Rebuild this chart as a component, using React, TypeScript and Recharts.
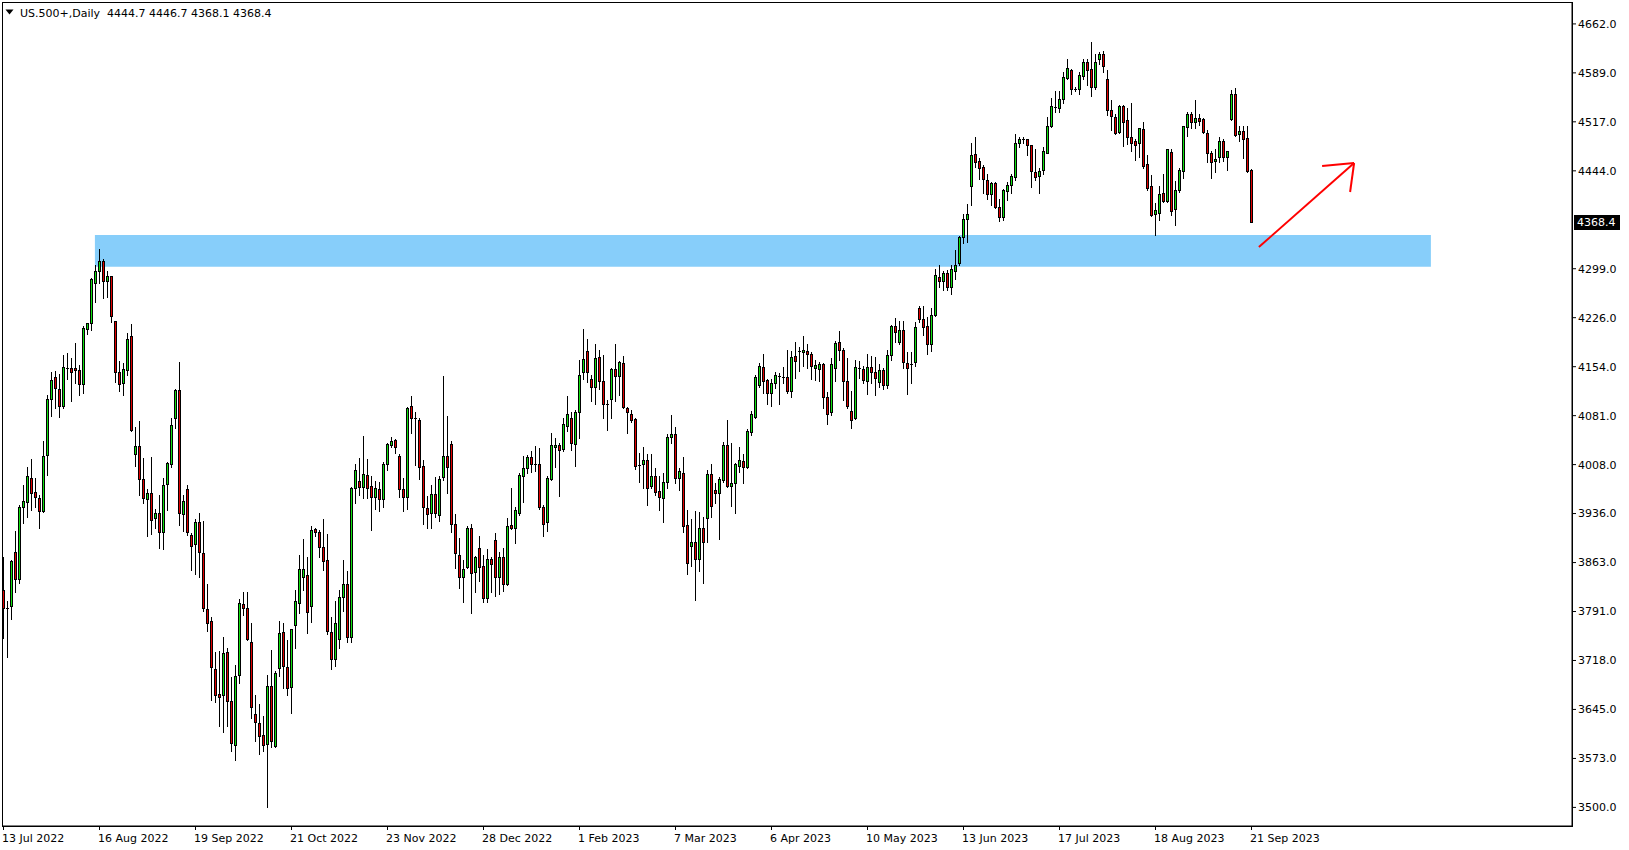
import React from 'react';
import { ComposedChart, Bar, XAxis, YAxis, ReferenceArea, ReferenceLine } from 'recharts';

// daily US.500+ candles, 13 Jul 2022 .. 21 Sep 2023
const OPEN = [
  3823, 3795, 3798, 3879, 3838, 3946, 3953, 3988, 3968, 3959,
  3939, 4022, 4105, 4138, 4120, 4096, 4151, 4152, 4151, 4149,
  4128, 4210, 4219, 4277, 4295, 4310, 4280, 4288, 4221, 4146,
  4129, 4148, 4199, 4024, 4036, 3987, 3958, 3967, 3929, 3936,
  3908, 3979, 4010, 4077, 4119, 3935, 3972, 3904, 3890, 3923,
  3878, 3794, 3776, 3705, 3668, 3667, 3730, 3658, 3592, 3696,
  3802, 3795, 3745, 3639, 3625, 3607, 3594, 3680, 3591, 3706,
  3760, 3708, 3678, 3770, 3803, 3841, 3845, 3798, 3913, 3908,
  3886, 3867, 3760, 3720, 3750, 3812, 3832, 3752, 3973, 3984,
  3975, 3993, 3976, 3960, 3972, 3958, 4010, 4037, 4045, 4021,
  3972, 3961, 4095, 4077, 4075, 4006, 3944, 3936, 3965, 3933,
  3990, 4021, 4039, 3920, 3874, 3842, 3856, 3915, 3849, 3884,
  3858, 3810, 3869, 3897, 3842, 3871, 3832, 3919, 3914, 3936,
  3991, 4003, 4020, 4010, 4009, 3945, 3924, 3987, 4035, 4038,
  4031, 4065, 4077, 4039, 4086, 4145, 4177, 4135, 4123, 4168,
  4132, 4099, 4105, 4150, 4140, 4159, 4093, 4084, 4076, 4008,
  4009, 4015, 3976, 3991, 3969, 3959, 3982, 4049, 4054, 3989,
  3996, 3919, 3887, 3893, 3869, 3915, 3929, 3994, 3971, 3967,
  3986, 4037, 3976, 3981, 4007, 4014, 4005, 4057, 4079, 4127,
  4153, 4134, 4114, 4129, 4140, 4138, 4138, 4117, 4169, 4176,
  4176, 4177, 4172, 4152, 4150, 4157, 4109, 4086, 4151, 4190,
  4179, 4133, 4088, 4077, 4151, 4150, 4133, 4153, 4146, 4131,
  4149, 4126, 4171, 4214, 4190, 4208, 4159, 4157, 4160, 4240,
  4224, 4214, 4188, 4231, 4287, 4280, 4293, 4272, 4296, 4307,
  4346, 4372, 4422, 4469, 4459, 4450, 4430, 4410, 4426, 4390,
  4376, 4414, 4423, 4435, 4486, 4491, 4491, 4482, 4442, 4437,
  4446, 4471, 4511, 4539, 4537, 4551, 4582, 4594, 4564, 4565,
  4585, 4605, 4595, 4568, 4610, 4618, 4580, 4534, 4524, 4501,
  4540, 4519, 4495, 4488, 4485, 4506, 4454, 4422, 4380, 4382,
  4411, 4399, 4472, 4387, 4416, 4444, 4509, 4528, 4517, 4522,
  4521, 4500, 4470, 4458, 4465, 4488, 4465, 4521, 4558, 4499,
  4503, 4493, 4444.7,
];

const HIGH = [
  3872, 3806, 3867, 3910, 3948, 3978, 4005, 4017, 3988, 3964,
  4043, 4112, 4145, 4147, 4143, 4171, 4174, 4166, 4189, 4156,
  4214, 4219, 4285, 4305, 4328, 4314, 4295, 4288, 4222, 4162,
  4159, 4203, 4217, 4064, 4073, 4018, 3972, 4019, 3942, 3963,
  3988, 4013, 4078, 4121, 4160, 3963, 3978, 3907, 3928, 3936,
  3925, 3832, 3783, 3730, 3732, 3752, 3737, 3694, 3711, 3809,
  3819, 3819, 3773, 3667, 3653, 3636, 3697, 3733, 3702, 3776,
  3774, 3748, 3765, 3822, 3874, 3898, 3872, 3917, 3915, 3911,
  3928, 3906, 3783, 3806, 3822, 3867, 3850, 3975, 4010, 4018,
  4051, 4017, 3992, 3984, 3983, 4012, 4041, 4049, 4046, 4024,
  3988, 4094, 4110, 4087, 4077, 4015, 3962, 3978, 3990, 3992,
  4140, 4080, 4043, 3935, 3899, 3867, 3918, 3920, 3873, 3902,
  3874, 3883, 3872, 3907, 3879, 3885, 3929, 3974, 3945, 3996,
  4021, 4023, 4029, 4036, 4033, 3948, 3991, 4056, 4048, 4041,
  4077, 4110, 4087, 4090, 4164, 4210, 4195, 4142, 4188, 4179,
  4171, 4104, 4152, 4187, 4162, 4170, 4094, 4089, 4078, 4026,
  4034, 4024, 4024, 4003, 3992, 3996, 4054, 4082, 4064, 4003,
  4020, 3941, 3928, 3940, 3938, 3930, 4000, 4009, 3981, 3990,
  4042, 4075, 4041, 4011, 4034, 4024, 4061, 4088, 4141, 4159,
  4172, 4136, 4135, 4146, 4144, 4153, 4178, 4177, 4190, 4183,
  4199, 4187, 4175, 4163, 4161, 4159, 4116, 4167, 4191, 4207,
  4182, 4167, 4117, 4163, 4162, 4155, 4173, 4169, 4168, 4157,
  4152, 4179, 4216, 4226, 4221, 4221, 4176, 4175, 4220, 4243,
  4243, 4228, 4241, 4299, 4305, 4296, 4297, 4304, 4327, 4348,
  4380, 4395, 4486, 4494, 4463, 4453, 4439, 4428, 4427, 4403,
  4417, 4428, 4440, 4498, 4495, 4494, 4492, 4483, 4477, 4449,
  4479, 4524, 4552, 4562, 4562, 4590, 4610, 4595, 4569, 4590,
  4610, 4610, 4635, 4618, 4621, 4622, 4593, 4549, 4529, 4542,
  4542, 4537, 4545, 4492, 4508, 4517, 4468, 4438, 4396, 4421,
  4440, 4477, 4476, 4429, 4448, 4511, 4531, 4531, 4549, 4528,
  4523, 4505, 4473, 4477, 4495, 4491, 4474, 4564, 4567, 4510,
  4510, 4510, 4446.7,
];

const LOW = [
  3751, 3723, 3780, 3820, 3833, 3922, 3930, 3941, 3946, 3914,
  3938, 3993, 4081, 4093, 4079, 4093, 4136, 4103, 4129, 4112,
  4114, 4202, 4208, 4249, 4278, 4255, 4257, 4220, 4131, 4118,
  4111, 4142, 4058, 4007, 3963, 3952, 3903, 3906, 3915, 3885,
  3883, 3941, 4005, 4062, 3919, 3910, 3904, 3852, 3846, 3842,
  3791, 3762, 3660, 3657, 3621, 3612, 3621, 3583, 3570, 3685,
  3785, 3748, 3632, 3598, 3579, 3584, 3501, 3590, 3590, 3695,
  3677, 3666, 3640, 3736, 3789, 3822, 3758, 3775, 3902, 3872,
  3852, 3757, 3705, 3710, 3737, 3792, 3745, 3745, 3951, 3963,
  3959, 3959, 3912, 3942, 3939, 3945, 4001, 4035, 4025, 3961,
  3940, 3942, 4055, 4008, 3987, 3921, 3914, 3914, 3930, 3925,
  3986, 3966, 3908, 3855, 3826, 3804, 3855, 3788, 3820, 3836,
  3804, 3805, 3820, 3814, 3817, 3821, 3830, 3913, 3892, 3934,
  3953, 3996, 3997, 3999, 3943, 3902, 3910, 3986, 4005, 3962,
  4029, 4058, 4030, 4007, 4048, 4136, 4131, 4103, 4098, 4121,
  4078, 4060, 4078, 4103, 4112, 4093, 4056, 4072, 4002, 3983,
  3974, 3948, 3973, 3963, 3941, 3924, 3973, 4041, 3981, 3971,
  3909, 3846, 3858, 3808, 3851, 3833, 3894, 3931, 3952, 3898,
  3982, 3975, 3947, 3936, 3997, 3981, 4004, 4052, 4077, 4123,
  4114, 4098, 4096, 4122, 4098, 4129, 4114, 4109, 4137, 4147,
  4154, 4151, 4136, 4134, 4132, 4092, 4068, 4082, 4132, 4164,
  4104, 4093, 4062, 4076, 4137, 4130, 4113, 4129, 4111, 4124,
  4121, 4122, 4164, 4190, 4187, 4152, 4113, 4129, 4155, 4220,
  4200, 4173, 4177, 4229, 4272, 4267, 4267, 4262, 4284, 4305,
  4337, 4339, 4393, 4450, 4432, 4411, 4403, 4393, 4389, 4369,
  4371, 4401, 4411, 4431, 4479, 4486, 4467, 4420, 4431, 4411,
  4439, 4470, 4509, 4532, 4532, 4545, 4580, 4558, 4562, 4558,
  4580, 4571, 4555, 4565, 4602, 4591, 4527, 4505, 4499, 4500,
  4481, 4484, 4473, 4460, 4465, 4448, 4416, 4377, 4349, 4371,
  4398, 4398, 4378, 4364, 4413, 4434, 4496, 4507, 4507, 4512,
  4500, 4457, 4434, 4443, 4457, 4458, 4445, 4520, 4496, 4488,
  4463, 4443, 4368.1,
];

const CLOSE = [
  3796, 3794.5, 3865, 3838, 3945, 3954, 3991, 3966, 3961, 3939,
  4021, 4106, 4134, 4122, 4096, 4153, 4151.5, 4145, 4149, 4128,
  4211, 4218, 4283, 4295, 4310, 4280, 4288, 4229, 4146, 4128,
  4150, 4195, 4059, 4036, 3987, 3959, 3967, 3926, 3936, 3908,
  3978, 4011, 4067, 4119, 3936, 3955, 3909, 3888, 3923, 3879,
  3796, 3773, 3708, 3666, 3664, 3729, 3658, 3596, 3695, 3803,
  3795, 3750, 3649, 3626, 3606, 3592, 3680, 3599, 3699, 3758,
  3709, 3677, 3765, 3806, 3854, 3854, 3790, 3911, 3908, 3886,
  3866, 3761, 3720, 3773, 3812, 3832, 3752, 3973, 4001, 3975,
  3994, 3973, 3961, 3973, 3957, 4009, 4039, 4043, 4034, 3972,
  3961, 4093, 4077, 4076, 4005, 3945, 3935, 3965, 3936, 3987,
  4021, 4005, 3921, 3878, 3841, 3854, 3914, 3847, 3871, 3856,
  3810, 3869, 3861, 3842, 3871, 3832, 3917, 3914, 3941, 3993,
  4003, 4020, 4009, 4009, 3945, 3920, 3988, 4037, 4038, 4030,
  4068, 4084, 4040, 4086, 4142, 4165, 4146, 4123, 4166, 4133,
  4098, 4098, 4150, 4140, 4161, 4094, 4087, 4075, 4007, 4007,
  4015, 3974, 3991, 3968, 3961, 3982, 4049, 4054, 3989, 3999,
  3918, 3862, 3893, 3869, 3915, 3894, 3994, 3947, 3967, 3987,
  4037, 3976, 3981, 4010, 4015, 4005, 4058, 4083, 4138, 4155,
  4133, 4114, 4130, 4142, 4140.5, 4138.5, 4117, 4168, 4162, 4176.5,
  4179, 4172, 4154, 4156, 4157, 4108, 4084, 4158, 4189, 4179,
  4133, 4096, 4074, 4153, 4151.5, 4134, 4153, 4145, 4137, 4149,
  4127, 4171, 4214, 4205, 4208, 4160, 4151, 4158, 4213, 4225,
  4213, 4188, 4231, 4289, 4280, 4292, 4272, 4298, 4305, 4346,
  4372, 4380, 4468, 4457, 4448, 4432, 4409, 4426, 4390, 4375,
  4416, 4423, 4437, 4486, 4492, 4491.5, 4482, 4444, 4435, 4444,
  4474, 4511, 4540, 4539.5, 4551, 4583, 4596, 4566, 4566, 4586,
  4605, 4593, 4568, 4606, 4617, 4599, 4535, 4525, 4500, 4540,
  4517, 4494, 4486, 4483, 4507, 4452, 4419, 4378, 4386, 4409,
  4399, 4476, 4384, 4416, 4445, 4510, 4528, 4517, 4522, 4518,
  4501, 4470, 4457, 4461, 4488, 4465, 4474, 4558, 4497, 4503,
  4492, 4444, 4368.4,
];

const DATE_TICKS = [0, 24, 48, 72, 96, 120, 144, 168, 192, 216, 240, 264, 288, 312];
const DATE_LABELS = [
  '13 Jul 2022', '16 Aug 2022', '19 Sep 2022', '21 Oct 2022', '23 Nov 2022', '28 Dec 2022', '1 Feb 2023',
  '7 Mar 2023', '6 Apr 2023', '10 May 2023', '13 Jun 2023', '17 Jul 2023', '18 Aug 2023', '21 Sep 2023',
];

const PRICE_TICKS = [3500, 3572.6, 3645.3, 3717.9, 3790.5, 3863.1, 3935.8, 4008.4, 4081, 4153.6, 4226.3, 4298.9, 4444.1, 4516.8, 4589.4, 4662];
const PRICE_LABELS = ['3500.0', '3573.0', '3645.0', '3718.0', '3791.0', '3863.0', '3936.0', '4008.0', '4081.0', '4154.0', '4226.0', '4299.0', '4444.0', '4517.0', '4589.0', '4662.0'];

const SYMBOL = 'US.500+,Daily';
const LAST_PRICE = 4368.4;

// support zone (bar index / price) and the hand-drawn arrow
const ZONE_BARS = [22.8, 356.8];
const ZONE_PRICES = [4302, 4349];
const ARROW_FROM = { x: 313.8, y: 4331 };
const ARROW_TO = { x: 337.6, y: 4455.7 };
const ARROW_BARBS = [{ x: 329.6, y: 4451.3 }, { x: 336.6, y: 4412.7 }];

const UP = '#10e010';
const DOWN = '#e00000';
const FONT = '"DejaVu Sans", Verdana, sans-serif';

const data = OPEN.map((o, i) => ({ i, open: o, high: HIGH[i], low: LOW[i], close: CLOSE[i] }));

function Candle(props: any) {
  const { x, y, width, height, payload } = props;
  if (!payload) return null;
  const { open, high, low, close } = payload;
  const top = Math.min(y, y + height);
  const h = Math.abs(height);
  const py = (p: number) => top + ((high - p) / (high - low || 1)) * h;
  const cx = Math.floor(x + width / 2) + 0.5;
  const yo = py(open);
  const yc = py(close);
  const bTop = Math.round(Math.min(yo, yc)) + 0.5;
  const bBot = Math.round(Math.max(yo, yc)) + 0.5;
  const up = close >= open;
  return (
    <g>
      <line x1={cx} x2={cx} y1={Math.round(top)} y2={Math.round(top + h) + 1} stroke="#000" strokeWidth={1} />
      {bBot - bTop < 1.5 ? (
        <line x1={cx - 1.5} x2={cx + 1.5} y1={bTop} y2={bTop} stroke="#000" strokeWidth={1} />
      ) : (
        <rect x={cx - 1} y={bTop} width={2} height={bBot - bTop} fill={up ? UP : DOWN} stroke="#000" strokeWidth={1} />
      )}
    </g>
  );
}

// recharts hands the tick its text anchor (axis line + tickSize + tickMargin)
function DateTick(props: any) {
  const { x, y, payload } = props;
  const idx = DATE_TICKS.indexOf(payload.value);
  const tx = Math.floor(x) + 0.5;
  const axisY = y - 8;
  return (
    <g>
      <line x1={tx} x2={tx} y1={axisY} y2={axisY + 4} stroke="#000" />
      <text x={tx - 1.5} y={axisY + 15.5} fontSize={11} fontFamily={FONT} fill="#000" textAnchor="start">
        {DATE_LABELS[idx]}
      </text>
    </g>
  );
}

function PriceTag(props: any) {
  const { viewBox } = props;
  if (!viewBox) return null;
  const left = viewBox.x + viewBox.width + 2;
  const cy = Math.round(viewBox.y);
  return (
    <g>
      <rect x={left} y={cy - 7} width={46} height={15} fill="#000" />
      <text x={left + 3} y={cy + 4} fontSize={11} fontFamily={FONT} fill="#fff">
        {LAST_PRICE.toFixed(1)}
      </text>
    </g>
  );
}

export default function App() {
  return (
    <div style={{ position: 'absolute', left: 0, top: 0, width: 1629, height: 850, background: '#fff', overflow: 'hidden' }}>
      <ComposedChart width={1629} height={850} data={data} margin={{ top: 2, right: 0, bottom: 0, left: 2 }}>
        <XAxis
          dataKey="i"
          type="number"
          domain={[-0.425, 392.075]}
          allowDataOverflow
          ticks={DATE_TICKS}
          tick={<DateTick />}
          tickLine={false}
          axisLine={{ stroke: '#000' }}
          height={24}
          interval={0}
        />
        <YAxis
          orientation="right"
          type="number"
          domain={[3472.4, 4694.5]}
          allowDataOverflow
          ticks={PRICE_TICKS}
          interval={0}
          tickFormatter={(v: number) => PRICE_LABELS[PRICE_TICKS.indexOf(v)] ?? ''}
          tick={{ fontSize: 11, fontFamily: FONT, fill: '#000' }}
          tickLine={{ stroke: '#000' }}
          tickSize={4}
          tickMargin={2}
          axisLine={{ stroke: '#000' }}
          width={57}
        />
        <ReferenceArea
          x1={ZONE_BARS[0]}
          x2={ZONE_BARS[1]}
          y1={ZONE_PRICES[0]}
          y2={ZONE_PRICES[1]}
          fill="#87cefa"
          fillOpacity={1}
          stroke="none"
        />
        <Bar
          dataKey={(d: any) => [d.low, d.high]}
          barSize={3}
          shape={<Candle />}
          isAnimationActive={false}
        />
        <ReferenceLine segment={[ARROW_FROM, ARROW_TO]} stroke="#ff0000" strokeWidth={2} ifOverflow="visible" />
        <ReferenceLine segment={[ARROW_BARBS[0], ARROW_TO]} stroke="#ff0000" strokeWidth={2} ifOverflow="visible" />
        <ReferenceLine segment={[ARROW_BARBS[1], ARROW_TO]} stroke="#ff0000" strokeWidth={2} ifOverflow="visible" />
        <ReferenceLine y={LAST_PRICE} stroke="none" ifOverflow="visible" label={<PriceTag />} />
      </ComposedChart>
      <div
        style={{
          position: 'absolute', left: 2, top: 2, width: 1569, height: 823,
          border: '1px solid #000', pointerEvents: 'none',
        }}
      />
      <svg width={420} height={24} style={{ position: 'absolute', left: 0, top: 0 }}>
        <polygon points="5.5,9.5 13.5,9.5 9.5,14.5" fill="#000" />
        <text x={20} y={17} fontSize={11} fontFamily={FONT} fill="#000">
          {SYMBOL}{'\u00a0\u00a0'}{OPEN[OPEN.length - 1].toFixed(1)} {HIGH[HIGH.length - 1].toFixed(1)} {LOW[LOW.length - 1].toFixed(1)} {CLOSE[CLOSE.length - 1].toFixed(1)}
        </text>
      </svg>
    </div>
  );
}
